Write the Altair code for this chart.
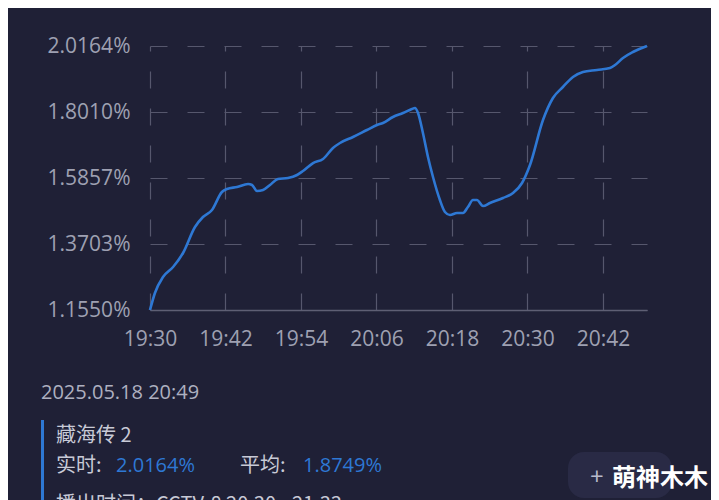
import altair as alt
import pandas as pd

# ---- data ----
times = ["19:30:00", "19:30:47", "19:32:04", "19:33:40", "19:35:15", "19:37:09", "19:38:25",
         "19:39:51", "19:41:26", "19:42:14", "19:43:50", "19:45:35", "19:46:13", "19:47:00",
         "19:47:58", "19:49:04", "19:50:20", "19:51:56", "19:53:22", "19:54:19", "19:55:55",
         "19:57:30", "19:59:05", "20:00:12", "20:02:16", "20:04:29", "20:06:05", "20:07:02",
         "20:08:37", "20:10:13", "20:11:38", "20:12:07", "20:12:36", "20:13:23", "20:14:11",
         "20:14:59", "20:16:05", "20:16:53", "20:17:41", "20:18:48", "20:19:45", "20:20:32",
         "20:21:20", "20:21:58", "20:22:56", "20:24:02", "20:26:07", "20:27:42", "20:29:08",
         "20:30:24", "20:32:28", "20:34:03", "20:35:38", "20:37:14", "20:38:49", "20:41:03",
         "20:43:07", "20:43:55", "20:45:11", "20:46:46", "20:49:00"]
ratings = [1.1550, 1.2105, 1.2627, 1.2953, 1.3410, 1.4258, 1.4584,
           1.4813, 1.5400, 1.5498, 1.5563, 1.5661, 1.5629, 1.5433,
           1.5465, 1.5629, 1.5824, 1.5857, 1.5955, 1.6085, 1.6346,
           1.6477, 1.6836, 1.6999, 1.7195, 1.7423, 1.7586, 1.7652,
           1.7847, 1.7978, 1.8108, 1.8141, 1.7978, 1.7325, 1.6542,
           1.5890, 1.5139, 1.4748, 1.4650, 1.4715, 1.4715, 1.4911,
           1.5139, 1.5139, 1.4943, 1.5041, 1.5204, 1.5367, 1.5694,
           1.6281, 1.7749, 1.8467, 1.8826, 1.9152, 1.9316, 1.9381,
           1.9446, 1.9544, 1.9772, 1.9968, 2.0164]
y_ticks = [1.1550, 1.3703, 1.5857, 1.8010, 2.0164]
x_tick_labels = ["19:30", "19:42", "19:54", "20:06", "20:18", "20:30", "20:42"]
start_time = "19:30"
end_time = "20:49"

date_label = "2025.05.18 20:49"
show_name = "藏海传 2"
realtime_label = "实时:"
realtime_value = "2.0164%"
average_label = "平均:"
average_value = "1.8749%"
airing_label = "播出时间：CCTV-8 20:30 - 21:33"
watermark_plus = "+"
watermark_name = "萌神木木"


def to_min(s):
    parts = [int(p) for p in s.split(":")]
    while len(parts) < 3:
        parts.append(0)
    h, m, sec = parts
    return h * 60 + m + sec / 60.0


t0 = to_min(start_time)
df = pd.DataFrame({"t": [to_min(s) - t0 for s in times], "v": ratings})
x_tick_vals = [to_min(s) - t0 for s in x_tick_labels]
x_end = to_min(end_time) - t0

BG = "#1f2036"
GRID = "#56576d"
LABEL = "#9ea0b2"
BLUE = "#2e78d4"
TEXT = "#c8cad6"

W, H = 497, 264

x_enc = alt.X(
    "t:Q",
    scale=alt.Scale(domain=[0, x_end], nice=False, zero=False),
    axis=alt.Axis(
        values=x_tick_vals,
        labelExpr="timeFormat(datetime(2025, 4, 18, 19, 30 + datum.value), '%H:%M')",
        title=None, ticks=False, labelPadding=18, labelFontSize=21,
        labelColor=LABEL, labelFont="Open Sans",
        domain=True, domainColor="#5e5f74", domainWidth=1.5,
        grid=True, gridColor=GRID, gridDash=[17, 20], gridWidth=1.2,
        gridDashOffset=12, labelFlush=False,
    ),
)
y_enc = alt.Y(
    "v:Q",
    scale=alt.Scale(domain=[y_ticks[0], y_ticks[-1]], nice=False, zero=False),
    axis=alt.Axis(
        values=y_ticks,
        labelExpr="format(datum.value, '.4f') + '%'",
        title=None, ticks=False, labelPadding=20, labelFontSize=21,
        labelColor=LABEL, labelFont="Open Sans", domain=False,
        grid=True, gridColor=GRID, gridDash=[17, 20], gridWidth=1.2,
    ),
)

line = alt.Chart(df).mark_line(
    color=BLUE, strokeWidth=2.6, interpolate="monotone"
).encode(x=x_enc, y=y_enc)


def txt(s, x, y, color=TEXT, size=20, weight="normal", font="Noto Sans CJK SC"):
    return alt.Chart(pd.DataFrame({"s": [s]})).mark_text(
        align="left", baseline="alphabetic", fontSize=size, color=color,
        fontWeight=weight, font=font,
    ).encode(text="s:N", x=alt.value(x), y=alt.value(y))


bar = alt.Chart(pd.DataFrame({"a": [0]})).mark_rect(color=BLUE).encode(
    x=alt.value(-109), x2=alt.value(-106), y=alt.value(374), y2=alt.value(470)
)
wm_box = alt.Chart(pd.DataFrame({"a": [0]})).mark_rect(
    color="#292a45", cornerRadius=16
).encode(x=alt.value(418), x2=alt.value(522), y=alt.value(406), y2=alt.value(452))

layers = [
    line,
    bar,
    wm_box,
    txt(date_label, -109, 353, color="#aeb0c0", size=20, font="Open Sans"),
    txt(show_name, -94, 396, color=TEXT, size=20),
    txt(realtime_label, -94, 426, color=TEXT, size=20),
    txt(realtime_value, -34, 426, color=BLUE, size=20, font="Open Sans"),
    txt(average_label, 90, 426, color=TEXT, size=20),
    txt(average_value, 153, 426, color=BLUE, size=20, font="Open Sans"),
    txt(airing_label, -94, 465, color=TEXT, size=20),
    txt(watermark_plus, 440, 439, color="#b8bacb", size=24, font="Open Sans"),
    txt(watermark_name, 462, 440, color="#ffffff", size=24, weight="bold"),
]

chart = alt.layer(*layers).properties(
    width=W, height=H,
    autosize=alt.AutoSizeParams(type="none"),
    padding={"left": 142, "top": 38, "right": 64, "bottom": 192},
    background=BG,
).configure_view(strokeWidth=0)

chart.save("out.html", embed_options={"renderer": "svg", "actions": False})
